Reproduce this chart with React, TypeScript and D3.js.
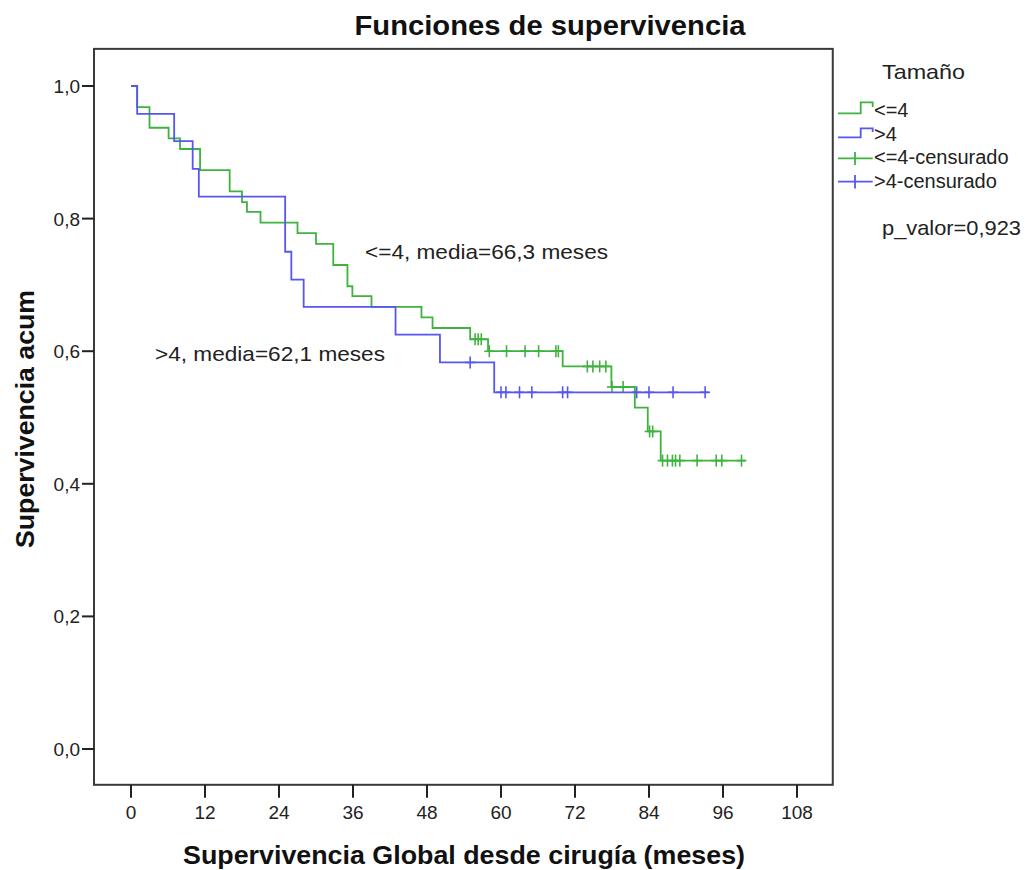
import React from "react";
import * as d3 from "d3";

// ---- data ----
const groups = ["<=4", ">4"];
const greenTimes = [0, 1.0, 3.0, 6.1, 7.95, 11.2, 16.0, 18.0, 18.8, 21.0, 27.0, 30.0, 32.8, 35.1, 35.9, 39.0, 47.1, 48.9, 55.0, 57.9, 70.0, 77.9, 81.7, 83.8, 85.9];
const greenSurv = [1.0, 0.968, 0.937, 0.921, 0.905, 0.873, 0.841, 0.825, 0.81, 0.794, 0.778, 0.762, 0.73, 0.698, 0.683, 0.667, 0.651, 0.635, 0.618, 0.6, 0.577, 0.546, 0.515, 0.479, 0.435];
const greenEnd = 99.6;
const greenCensored = [55.8, 56.3, 56.8, 58.1, 60.9, 63.9, 66.1, 68.9, 69.3, 74.0, 74.9, 76.0, 77.0, 78.0, 79.8, 84.1, 84.6, 86.2, 87.0, 87.8, 88.3, 89.0, 91.8, 94.9, 95.8, 99.0];

const blueTimes = [0, 1.0, 7.0, 10.0, 11.0, 25.0, 26.0, 28.0, 42.9, 50.1, 58.9];
const blueSurv = [1.0, 0.958, 0.917, 0.875, 0.833, 0.75, 0.708, 0.667, 0.625, 0.583, 0.538];
const blueEnd = 93.6;
const blueCensored = [55.0, 60.0, 60.8, 63.0, 65.0, 70.0, 70.8, 82.0, 84.0, 87.9, 93.1];

const xTicks = [0, 12, 24, 36, 48, 60, 72, 84, 96, 108];
const yTicks = [0, 0.2, 0.4, 0.6, 0.8, 1.0];
const legendLabels = ["<=4", ">4", "<=4-censurado", ">4-censurado"];
const means = [66.3, 62.1];
const pValue = "0,923";

const GREEN = "#3fb23f";
const BLUE = "#5656f0";
const FONT = "'Liberation Sans', Arial, sans-serif";

const x = d3.scaleLinear().domain([0, 108]).range([131, 797]);
const y = d3.scaleLinear().domain([0, 1]).range([749, 86]);
const frame = { x0: x(-6), x1: x(113.8), y0: y(1.056), y1: y(-0.054) };

function stepAt(times: number[], surv: number[], t: number) {
  let s = surv[0];
  for (let i = 0; i < times.length; i++) if (times[i] <= t) s = surv[i];
  return s;
}

const line = d3
  .line<[number, number]>()
  .x((d) => x(d[0]))
  .y((d) => y(d[1]))
  .curve(d3.curveStepAfter);

function curvePath(times: number[], surv: number[], end: number) {
  const pts: [number, number][] = times.map((t, i) => [t, surv[i]]);
  pts.push([end, surv[surv.length - 1]]);
  return line(pts) || "";
}

function Censor({ t, times, surv, color }: any) {
  const cx = x(t);
  const cy = y(stepAt(times, surv, t));
  return (
    <g stroke={color} strokeWidth={1.6}>
      <line x1={cx - 5} x2={cx + 5} y1={cy} y2={cy} />
      <line x1={cx} x2={cx} y1={cy - 6} y2={cy + 6} />
    </g>
  );
}

const fmt = (v: number) => d3.format(".1f")(v).replace(".", ",");

export default function App() {
  return (
    <svg
      width={1026}
      height={870}
      style={{ position: "absolute", left: 0, top: 0, background: "#fff" }}
      fontFamily={FONT}
    >
      <rect x={0} y={0} width={1026} height={870} fill="#fff" />
      {/* title */}
      <text x={550} y={35} textAnchor="middle" fontSize={27} fontWeight="bold" fill="#111" textLength={391} lengthAdjust="spacingAndGlyphs">
        Funciones de supervivencia
      </text>

      {/* frame */}
      <rect
        x={frame.x0}
        y={frame.y0}
        width={frame.x1 - frame.x0}
        height={frame.y1 - frame.y0}
        fill="none"
        stroke="#3a3a3a"
        strokeWidth={2}
      />

      {/* y axis ticks */}
      {yTicks.map((v) => (
        <g key={"y" + v}>
          <line x1={frame.x0 - 12} x2={frame.x0} y1={y(v)} y2={y(v)} stroke="#222" strokeWidth={2} />
          <text x={frame.x0 - 14} y={y(v) + 7} textAnchor="end" fontSize={19} fill="#222">
            {fmt(v)}
          </text>
        </g>
      ))}
      {/* x axis ticks */}
      {xTicks.map((v) => (
        <g key={"x" + v}>
          <line x1={x(v)} x2={x(v)} y1={frame.y1} y2={frame.y1 + 13} stroke="#222" strokeWidth={2} />
          <text x={x(v)} y={819} textAnchor="middle" fontSize={19} fill="#222">
            {v}
          </text>
        </g>
      ))}

      {/* axis titles */}
      <text x={464} y={864} textAnchor="middle" fontSize={26.7} fontWeight="bold" fill="#111" textLength={562} lengthAdjust="spacingAndGlyphs">
        Supervivencia Global desde cirugía (meses)
      </text>
      <text
        transform="translate(33.5,419) rotate(-90)"
        textAnchor="middle"
        fontSize={26.7}
        fontWeight="bold"
        fill="#111"
        textLength={258}
        lengthAdjust="spacingAndGlyphs"
      >
        Supervivencia acum
      </text>

      {/* curves */}
      <path d={curvePath(greenTimes, greenSurv, greenEnd)} fill="none" stroke={GREEN} strokeWidth={1.8} />
      {greenCensored.map((t, i) => (
        <Censor key={"gc" + i} t={t} times={greenTimes} surv={greenSurv} color={GREEN} />
      ))}
      <path d={curvePath(blueTimes, blueSurv, blueEnd)} fill="none" stroke={BLUE} strokeWidth={1.8} />
      {blueCensored.map((t, i) => (
        <Censor key={"bc" + i} t={t} times={blueTimes} surv={blueSurv} color={BLUE} />
      ))}

      {/* annotations */}
      <text x={365} y={259} fontSize={21} fill="#222" textLength={243} lengthAdjust="spacingAndGlyphs">
        {`${groups[0]}, media=${fmt(means[0])} meses`}
      </text>
      <text x={155} y={361} fontSize={21} fill="#222" textLength={230} lengthAdjust="spacingAndGlyphs">
        {`${groups[1]}, media=${fmt(means[1])} meses`}
      </text>

      {/* legend */}
      <text x={882} y={79} fontSize={21} fill="#222" textLength={83} lengthAdjust="spacingAndGlyphs">
        Tamaño
      </text>
      {/* step icons */}
      <path d="M838,113.3 H860.7 V102.3 H872.7 V107" fill="none" stroke={GREEN} strokeWidth={1.8} />
      <path d="M838,137.3 H860.7 V128.3 H872.7 V132" fill="none" stroke={BLUE} strokeWidth={1.8} />
      {/* censor icons */}
      <line x1={838} x2={872.7} y1={158.3} y2={158.3} stroke={GREEN} strokeWidth={1.8} />
      <line x1={855} x2={855} y1={152} y2={165} stroke={GREEN} strokeWidth={1.8} />
      <line x1={838} x2={872.7} y1={181.7} y2={181.7} stroke={BLUE} strokeWidth={1.8} />
      <line x1={855} x2={855} y1={175} y2={188.5} stroke={BLUE} strokeWidth={1.8} />
      {legendLabels.map((l, i) => (
        <text key={l} x={874} y={[117, 141, 164, 188][i]} fontSize={20} fill="#222">
          {l}
        </text>
      ))}
      <text x={882} y={235} fontSize={21} fill="#222" textLength={139} lengthAdjust="spacingAndGlyphs">
        {`p_valor=${pValue}`}
      </text>
    </svg>
  );
}
